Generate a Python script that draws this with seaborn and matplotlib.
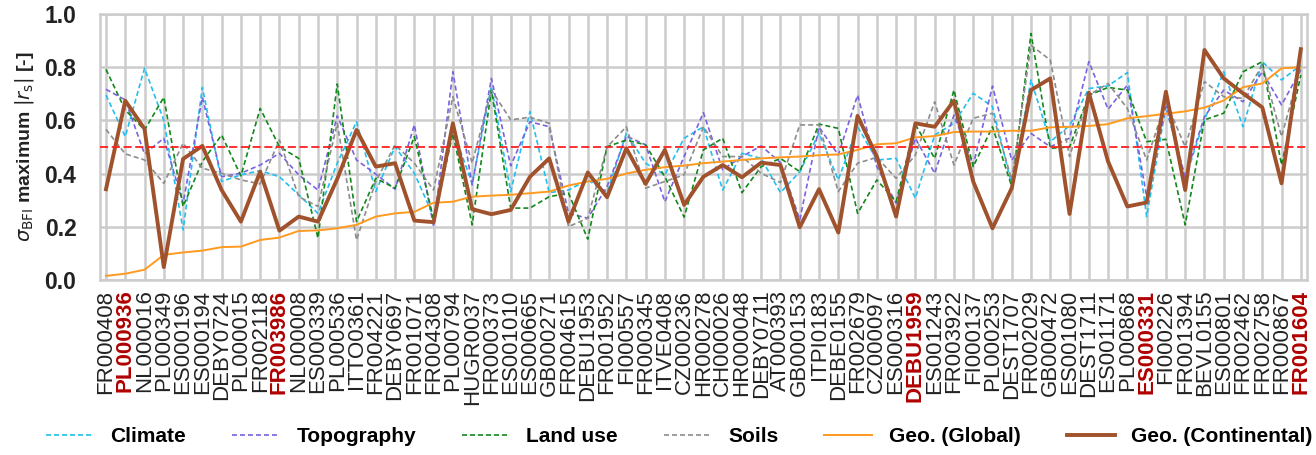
import matplotlib
matplotlib.use("Agg")
import matplotlib.pyplot as plt
import seaborn as sns
import pandas as pd
import numpy as np

stations = ["FR000408", "PL000936", "NL000016", "PL000349", "ES000196", "ES000194", "DEBY0724",
            "PL000015", "FR002118", "FR003986", "NL000008", "ES000339", "PL000536", "ITTO0361",
            "FR004221", "DEBY0697", "FR001071", "FR004308", "PL000794", "HUGR0037", "FR000373",
            "ES001010", "ES000665", "GB000271", "FR004615", "DEBU1953", "FR001952", "FI000557",
            "FR000345", "ITVE0408", "CZ000236", "HR000278", "CH000026", "HR000048", "DEBY0711",
            "AT000393", "GB000153", "ITPI0183", "DEBE0155", "FR002679", "CZ000097", "ES000316",
            "DEBU1959", "ES001243", "FR003922", "FI000137", "PL000253", "DEST1707", "FR002029",
            "GB000472", "ES001080", "DEST1711", "ES001171", "PL000868", "ES000331", "FI000226",
            "FR001394", "BEVL0155", "ES000801", "FR002462", "FR002758", "FR000867", "FR001604"]
highlighted = ["PL000936", "FR003986", "DEBU1959", "ES000331", "FR001604"]

climate = [0.695, 0.539, 0.796, 0.60, 0.188, 0.724, 0.37, 0.395, 0.411, 0.388, 0.32, 0.25,
           0.439, 0.595, 0.332, 0.501, 0.401, 0.238, 0.564, 0.363, 0.727, 0.332, 0.633, 0.328,
           0.338, 0.376, 0.328, 0.551, 0.439, 0.395, 0.533, 0.576, 0.338, 0.476, 0.457, 0.328,
           0.407, 0.551, 0.376, 0.576, 0.451, 0.457, 0.307, 0.545, 0.589, 0.702, 0.652, 0.357,
           0.752, 0.52, 0.58, 0.72, 0.73, 0.78, 0.238, 0.652, 0.38, 0.602, 0.783, 0.576, 0.821,
           0.752, 0.808]
topography = [0.717, 0.677, 0.474, 0.533, 0.288, 0.687, 0.388, 0.401, 0.432, 0.476, 0.395, 0.338,
              0.617, 0.451, 0.398, 0.341, 0.583, 0.20, 0.783, 0.357, 0.758, 0.429, 0.595, 0.576,
              0.25, 0.232, 0.351, 0.541, 0.508, 0.294, 0.464, 0.629, 0.414, 0.464, 0.504, 0.441,
              0.226, 0.575, 0.47, 0.695, 0.426, 0.288, 0.533, 0.401, 0.62, 0.432, 0.729, 0.45,
              0.551, 0.501, 0.533, 0.821, 0.642, 0.733, 0.313, 0.652, 0.388, 0.614, 0.714, 0.67,
              0.783, 0.658, 0.79]
land_use = [0.792, 0.639, 0.564, 0.687, 0.276, 0.445, 0.545, 0.391, 0.645, 0.501, 0.457, 0.157,
            0.737, 0.219, 0.382, 0.345, 0.539, 0.226, 0.551, 0.207, 0.714, 0.27, 0.27, 0.313,
            0.326, 0.153, 0.501, 0.526, 0.508, 0.388, 0.236, 0.489, 0.533, 0.328, 0.426, 0.457,
            0.407, 0.586, 0.57, 0.25, 0.376, 0.294, 0.585, 0.457, 0.714, 0.426, 0.576, 0.351,
            0.927, 0.495, 0.50, 0.695, 0.724, 0.714, 0.52, 0.529, 0.207, 0.602, 0.627, 0.783,
            0.821, 0.432, 0.771]
soils = [0.566, 0.474, 0.451, 0.363, 0.514, 0.42, 0.401, 0.376, 0.361, 0.526, 0.313, 0.276,
         0.589, 0.15, 0.37, 0.508, 0.439, 0.338, 0.689, 0.439, 0.714, 0.602, 0.612, 0.589,
         0.20, 0.232, 0.50, 0.576, 0.345, 0.37, 0.395, 0.576, 0.464, 0.464, 0.401, 0.366,
         0.583, 0.583, 0.332, 0.439, 0.461, 0.382, 0.47, 0.67, 0.432, 0.608, 0.627, 0.376,
         0.883, 0.827, 0.464, 0.695, 0.739, 0.645, 0.451, 0.67, 0.501, 0.746, 0.689, 0.683,
         0.808, 0.539, 0.802]
geo_global = [0.015, 0.023, 0.038, 0.094, 0.103, 0.11, 0.123, 0.125, 0.15, 0.159, 0.184, 0.186,
              0.194, 0.207, 0.238, 0.25, 0.256, 0.29, 0.294, 0.313, 0.317, 0.32, 0.326, 0.332,
              0.355, 0.37, 0.38, 0.40, 0.414, 0.424, 0.43, 0.439, 0.445, 0.451, 0.457, 0.461,
              0.464, 0.469, 0.472, 0.489, 0.51, 0.514, 0.536, 0.541, 0.556, 0.558, 0.558, 0.561,
              0.561, 0.574, 0.576, 0.579, 0.586, 0.608, 0.616, 0.625, 0.634, 0.648, 0.675, 0.725,
              0.739, 0.796, 0.80]
geo_continental = [0.341, 0.674, 0.568, 0.048, 0.455, 0.504, 0.338, 0.219, 0.407, 0.185, 0.238,
                   0.219, 0.38, 0.564, 0.426, 0.439, 0.223, 0.217, 0.589, 0.266, 0.247, 0.263,
                   0.388, 0.457, 0.219, 0.404, 0.311, 0.495, 0.361, 0.489, 0.282, 0.388, 0.432,
                   0.386, 0.441, 0.432, 0.198, 0.341, 0.178, 0.617, 0.464, 0.238, 0.589, 0.576,
                   0.674, 0.37, 0.194, 0.345, 0.714, 0.758, 0.248, 0.704, 0.445, 0.276, 0.291,
                   0.708, 0.338, 0.865, 0.758, 0.702, 0.649, 0.363, 0.868]
threshold = 0.5

series = [
    ("Climate", climate, "#22c0f0", (0, (3, 1.8)), 1.2),
    ("Topography", topography, "#7b62e0", (0, (3, 1.8)), 1.2),
    ("Land use", land_use, "#11881a", (0, (3, 1.8)), 1.2),
    ("Soils", soils, "#8c8c8c", (0, (3, 1.8)), 1.2),
    ("Geo. (Global)", geo_global, "#ff9a1f", "-", 1.4),
    ("Geo. (Continental)", geo_continental, "#a0522d", "-", 2.8),
]

fig = plt.figure(figsize=(13.16, 4.55), dpi=100)
ax = fig.add_axes([0.076, 0.385, 0.917, 0.584])

pos = np.arange(len(stations))
for name, vals, col, ls, lw in series:
    df = pd.DataFrame({"x": pos, "y": vals})
    sns.lineplot(data=df, x="x", y="y", ax=ax, color=col, linestyle=ls, lw=lw, label=name)

ax.axhline(threshold, color="#ff2020", ls=(0, (4.5, 2)), lw=1.3, zorder=3)

ax.set_xlim(-0.31, len(stations) - 1 + 0.31)
ax.set_ylim(0, 1.0)
ax.set_xticks(pos)
ax.set_xticklabels(stations, rotation=90, fontsize=16, family="Liberation Sans")
for t, s in zip(ax.get_xticklabels(), stations):
    if s in highlighted:
        t.set_color("#b00000")
        t.set_fontweight("bold")
    else:
        t.set_color("#222222")
ax.set_yticks(np.arange(0, 1.01, 0.2))
ax.set_yticklabels([f"{v:.1f}" for v in np.arange(0, 1.01, 0.2)], fontsize=16.5,
                   fontweight="bold", family="Liberation Sans", color="#222222")
ax.tick_params(axis="both", length=0)
ax.tick_params(axis="y", pad=17)
ax.tick_params(axis="x", pad=7)
ax.grid(True, color="#cccccc", lw=1.8, zorder=0)
ax.set_axisbelow(True)
for sp in ax.spines.values():
    sp.set_color("#cccccc")
    sp.set_linewidth(1.8)
ax.set_xlabel("")
ax.set_ylabel(r"$\sigma_{\mathrm{BFI}}$ maximum $|r_\mathrm{s}|$ [-]", fontsize=14,
              fontweight="bold", family="Liberation Sans", color="#222222", labelpad=6)

ax.get_legend().remove()
handles, labels = ax.get_legend_handles_labels()
fig.legend(handles, labels, loc="center", bbox_to_anchor=(0.516, 0.04), ncol=6, frameon=False,
           prop={"family": "Liberation Sans", "weight": "bold", "size": 15},
           handlelength=2.3, handletextpad=0.8, columnspacing=2.2)

fig.savefig("out.png", dpi=100)
